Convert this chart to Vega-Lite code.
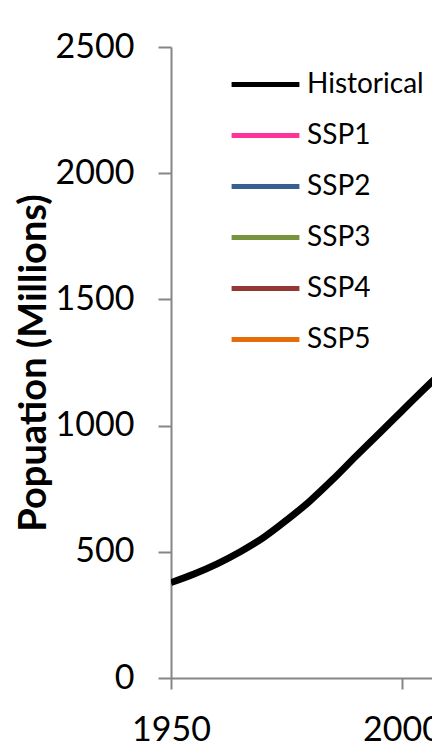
{
  "$schema": "https://vega.github.io/schema/vega-lite/v6.json",
  "autosize": {"type": "none"},
  "padding": {"left": 171, "top": 47, "right": 0, "bottom": 69},
  "width": 261,
  "height": 631,
  "background": "white",
  "config": {
    "view": {"stroke": null},
    "font": "Lato"
  },
  "data": {
    "values": [
      {"year": 1950, "pop": 378, "series": "Historical"},
      {"year": 1955, "pop": 412, "series": "Historical"},
      {"year": 1960, "pop": 452, "series": "Historical"},
      {"year": 1965, "pop": 500, "series": "Historical"},
      {"year": 1970, "pop": 556, "series": "Historical"},
      {"year": 1975, "pop": 625, "series": "Historical"},
      {"year": 1980, "pop": 700, "series": "Historical"},
      {"year": 1985, "pop": 786, "series": "Historical"},
      {"year": 1990, "pop": 878, "series": "Historical"},
      {"year": 1995, "pop": 968, "series": "Historical"},
      {"year": 2000, "pop": 1058, "series": "Historical"},
      {"year": 2005, "pop": 1148, "series": "Historical"},
      {"year": 2010, "pop": 1234, "series": "Historical"}
    ]
  },
  "mark": {"type": "line", "strokeWidth": 7, "clip": true, "interpolate": "monotone"},
  "encoding": {
    "x": {
      "field": "year",
      "type": "quantitative",
      "scale": {"domain": [1950, 2006.5], "nice": false, "zero": false},
      "axis": {
        "values": [1950, 2000],
        "format": "d",
        "title": null,
        "grid": false,
        "domainColor": "#868686",
        "domainWidth": 2,
        "tickColor": "#868686",
        "tickWidth": 2,
        "tickSize": 11,
        "labelFontSize": 34,
        "labelColor": "black",
        "labelPadding": 24,
        "labelFlush": false
      }
    },
    "y": {
      "field": "pop",
      "type": "quantitative",
      "scale": {"domain": [0, 2500], "nice": false},
      "axis": {
        "values": [0, 500, 1000, 1500, 2000, 2500],
        "format": "d",
        "title": "Popuation (Millions)",
        "titleFontSize": 38,
        "titleFontWeight": "bold",
        "titleColor": "black",
        "titlePadding": 2,
        "grid": false,
        "domainColor": "#868686",
        "domainWidth": 2,
        "tickColor": "#868686",
        "tickWidth": 2,
        "tickSize": 13,
        "labelFontSize": 34,
        "labelColor": "black",
        "labelPadding": 24
      }
    },
    "color": {
      "field": "series",
      "type": "nominal",
      "scale": {
        "domain": ["Historical", "SSP1", "SSP2", "SSP3", "SSP4", "SSP5"],
        "range": ["#000000", "#FF3399", "#376092", "#77933C", "#953735", "#E46C0A"]
      },
      "legend": {
        "title": null,
        "orient": "none",
        "legendX": 58,
        "legendY": 1,
        "symbolType": "stroke",
        "symbolSize": 4600,
        "symbolStrokeWidth": 5,
        "labelFontSize": 28,
        "labelColor": "black",
        "labelOffset": 5,
        "labelLimit": 400,
        "rowPadding": 0
      }
    }
  }
}
